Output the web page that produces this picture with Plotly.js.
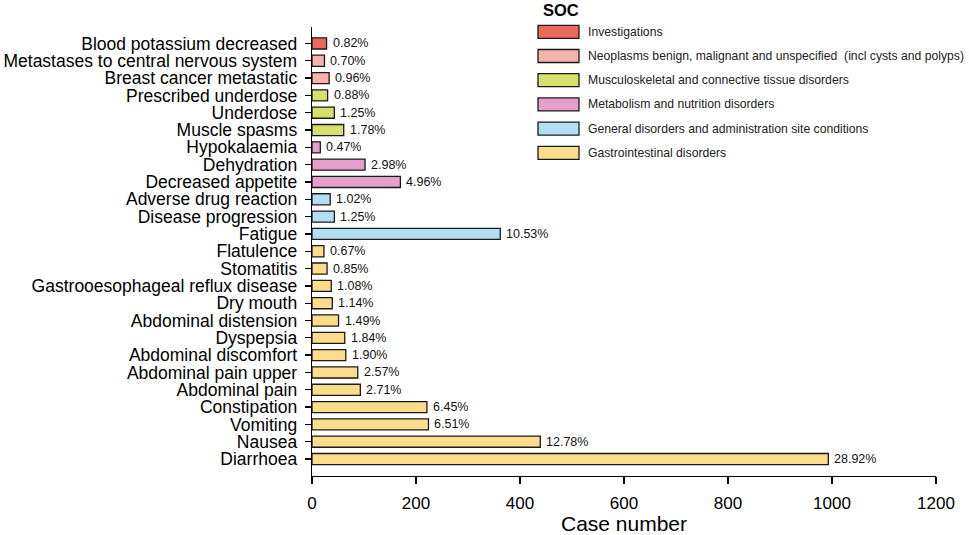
<!DOCTYPE html>
<html>
<head>
<meta charset="utf-8">
<script src="https://cdn.plot.ly/plotly-3.0.1.min.js"></script>
<style>
  html, body { margin: 0; padding: 0; background: #fff; }
  #chart { width: 969px; height: 535px; }
</style>
</head>
<body>
<div id="chart"></div>
<script>
// Preferred terms, bottom to top
const terms = [
    "Diarrhoea", "Nausea", "Vomiting", "Constipation", "Abdominal pain",
    "Abdominal pain upper", "Abdominal discomfort", "Dyspepsia", "Abdominal distension",
    "Dry mouth", "Gastrooesophageal reflux disease", "Stomatitis", "Flatulence",
    "Fatigue", "Disease progression", "Adverse drug reaction",
    "Decreased appetite", "Dehydration", "Hypokalaemia",
    "Muscle spasms", "Underdose", "Prescribed underdose",
    "Breast cancer metastatic", "Metastases to central nervous system",
    "Blood potassium decreased"
];
const cases = [993, 439, 224, 221, 93, 88, 65, 63, 51, 39, 37, 29, 23,
    362, 43, 35, 170, 102, 16, 61, 43, 30, 33, 24, 28];
const percents = ["28.92%", "12.78%", "6.51%", "6.45%", "2.71%", "2.57%", "1.90%", "1.84%",
    "1.49%", "1.14%", "1.08%", "0.85%", "0.67%", "10.53%", "1.25%", "1.02%",
    "4.96%", "2.98%", "0.47%", "1.78%", "1.25%", "0.88%", "0.96%", "0.70%", "0.82%"];
const termSoc = ["GI", "GI", "GI", "GI", "GI", "GI", "GI", "GI", "GI", "GI", "GI", "GI", "GI",
    "GEN", "GEN", "GEN", "MET", "MET", "MET", "MUS", "MUS", "MUS", "NEO", "NEO", "INV"];

// SOC legend, top to bottom
const socKeys = ["INV", "NEO", "MUS", "MET", "GEN", "GI"];
const socNames = [
    "Investigations",
    "Neoplasms benign, malignant and unspecified &nbsp;(incl cysts and polyps)",
    "Musculoskeletal and connective tissue disorders",
    "Metabolism and nutrition disorders",
    "General disorders and administration site conditions",
    "Gastrointestinal disorders"
];
const socColors = ["#EC685B", "#F5B2AF", "#D6E06A", "#E59FCA", "#B4DFF3", "#FADC8B"];

const FONT = "Liberation Sans, Arial, sans-serif";

// plot area in pixels
const plotL = 312, plotR = 936, plotT = 27, plotB = 476;
function px2x(px) { return (px - plotL) / (plotR - plotL); }
function px2y(py) { return (plotB - py) / (plotB - plotT); }

const barColors = termSoc.map(s => socColors[socKeys.indexOf(s)]);

const trace = {
    type: "bar",
    orientation: "h",
    y: terms,
    x: cases,
    width: 0.64,
    marker: { color: barColors, line: { color: "#1a1a1a", width: 1.3 } },
    hoverinfo: "x+y",
    showlegend: false
};

const annotations = terms.map((t, i) => ({
    x: cases[i], y: t, xref: "x", yref: "y",
    text: percents[i], showarrow: false,
    xanchor: "left", yanchor: "middle", xshift: 4,
    font: { family: FONT, size: 12.5, color: "#111" }
}));

const shapes = [];

// legend title
annotations.push({
    x: px2x(541), y: px2y(10), xref: "paper", yref: "paper",
    text: "<b>SOC</b>", showarrow: false, xanchor: "left", yanchor: "middle",
    font: { family: FONT, size: 16.5, color: "#000" }
});

socNames.forEach((name, i) => {
    const cy = 31.8 + i * 24.2;
    shapes.push({
        type: "rect", xref: "paper", yref: "paper",
        x0: px2x(538), x1: px2x(579), y0: px2y(cy - 6.5), y1: px2y(cy + 6.5),
        fillcolor: socColors[i], line: { color: "#1a1a1a", width: 1.3 }
    });
    annotations.push({
        x: px2x(586), y: px2y(cy), xref: "paper", yref: "paper",
        text: name, showarrow: false, xanchor: "left", yanchor: "middle",
        font: { family: FONT, size: 12.2, color: "#222" }
    });
});

const layout = {
    width: 969,
    height: 535,
    margin: { l: plotL, r: 969 - plotR, t: plotT, b: 535 - plotB, pad: 0 },
    paper_bgcolor: "#fff",
    plot_bgcolor: "#fff",
    font: { family: FONT, color: "#000" },
    xaxis: {
        range: [0, 1200],
        tickvals: [0, 200, 400, 600, 800, 1000, 1200],
        showgrid: false,
        zeroline: false,
        showline: true,
        linecolor: "#000",
        linewidth: 1.3,
        ticks: "outside",
        ticklen: 7,
        tickwidth: 1.3,
        tickcolor: "#000",
        ticklabelstandoff: 4,
        tickfont: { family: FONT, size: 17, color: "#000" },
        title: { text: "Case number", font: { family: FONT, size: 21, color: "#000" }, standoff: 7 },
        automargin: false,
        fixedrange: true
    },
    yaxis: {
        type: "category",
        categoryorder: "array",
        categoryarray: terms,
        tickmode: "array",
        tickvals: terms,
        ticktext: terms,
        range: [-0.98, 24.95],
        showgrid: false,
        zeroline: false,
        showline: true,
        linecolor: "#000",
        linewidth: 1.3,
        ticks: "outside",
        ticklen: 6,
        tickwidth: 1.3,
        tickcolor: "#000",
        ticklabelstandoff: 4,
        tickfont: { family: FONT, size: 17.5, color: "#000" },
        automargin: false,
        fixedrange: true
    },
    shapes: shapes,
    annotations: annotations,
    showlegend: false
};

Plotly.newPlot("chart", [trace], layout, { displayModeBar: false, staticPlot: true });
</script>
</body>
</html>
